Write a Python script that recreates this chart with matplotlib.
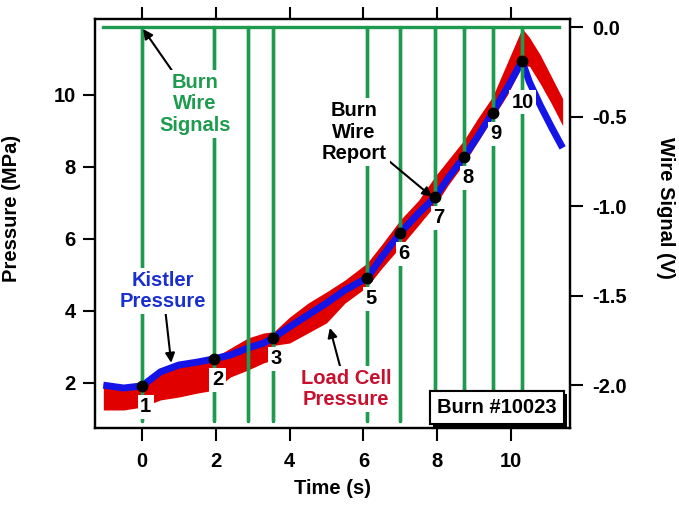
import matplotlib
matplotlib.use('Agg')
import matplotlib.pyplot as plt
import matplotlib.patheffects as pe

plt.rcParams['font.family'] = ['Liberation Sans', 'DejaVu Sans']
plt.rcParams['font.weight'] = 'bold'
plt.rcParams['axes.labelweight'] = 'bold'
plt.rcParams['font.size'] = 14.5
plt.rcParams['axes.unicode_minus'] = False

# Kistler pressure (blue), MPa
t_kistler = [-1.05, -0.5, 0, 0.5, 1.0, 1.5, 1.95, 2.4, 2.87, 3.3, 3.55, 4.0, 4.5, 5.0,
             5.5, 6.1, 6.5, 7.0, 7.5, 7.95, 8.3, 8.73, 9.1, 9.5, 9.9, 10.3, 10.5, 10.8,
             11.1, 11.4]
p_kistler = [1.94, 1.86, 1.92, 2.31, 2.5, 2.58, 2.67, 2.78, 2.97, 3.11, 3.25, 3.56, 3.89,
             4.22, 4.58, 4.92, 5.5, 6.17, 6.72, 7.17, 7.7, 8.28, 8.85, 9.5, 10.2, 10.94,
             10.36, 9.7, 9.1, 8.53]

# Load cell pressure (red band), MPa
t_load = [-1.05, -0.5, 0, 0.5, 1.0, 1.5, 1.95, 2.4, 2.87, 3.3, 3.55, 3.6, 4.0, 4.5, 5.0,
          5.5, 6.1, 6.5, 7.0, 7.5, 7.95, 8.3, 8.73, 9.1, 9.5, 9.9, 10.3, 10.5, 10.8, 11.1,
          11.4]
load_lo = [1.25, 1.25, 1.33, 1.53, 1.61, 1.72, 1.8, 2.17, 2.36, 2.56, 2.64, 3.05, 3.11,
           3.39, 3.67, 4.22, 4.67, 5.19, 5.78, 6.39, 6.95, 7.5, 8.1, 8.7, 9.35, 10.0, 10.8,
           10.8, 10.3, 9.75, 9.15]
load_hi = [2.02, 1.95, 2.0, 2.35, 2.52, 2.6, 2.7, 2.97, 3.25, 3.39, 3.42, 3.45, 3.83, 4.22,
           4.53, 4.86, 5.33, 5.85, 6.53, 7.08, 7.75, 8.2, 8.75, 9.35, 9.95, 10.9, 11.85,
           11.6, 11.1, 10.5, 9.9]

# burn wire signals (V)
wire_t_start = -1.05
wire_t_end = 11.3
burn_times = [0, 1.95, 2.87, 3.55, 6.1, 7.0, 7.95, 8.73, 9.5, 10.3]
wire_low = -2.2

# burn wire report points
mark_t = [0, 1.95, 3.55, 6.1, 7.0, 7.95, 8.73, 9.5, 10.3]
mark_p = [1.92, 2.67, 3.25, 4.92, 6.17, 7.17, 8.28, 9.5, 10.94]
mark_lbl = ['1', '2', '3', '5', '6', '7', '8', '9', '10']

GREEN = '#1f9b4f'

fig = plt.figure(figsize=(6.79, 5.05), dpi=100)
ax = fig.add_axes([0.140, 0.1525, 0.6995, 0.8099])
ax2 = ax.twinx()

ax.fill_between(t_load, load_lo, load_hi, color='#e00000', lw=0, zorder=1)
ax.plot(t_kistler, p_kistler, color='#1414e6', lw=5, solid_capstyle='butt', zorder=2)

# wire signal trace: baseline at 0 with a spike at each burn time
wt = [wire_t_start]
wv = [0]
for bt in burn_times:
    wt += [bt, bt, bt]
    wv += [0, wire_low, 0]
wt.append(wire_t_end)
wv.append(0)
ax2.plot(wt, wv, color=GREEN, lw=2.4, zorder=2)

ax2.plot(mark_t, mark_p, 'o', color='k', ms=7.5, transform=ax.transData, zorder=4)
for t, p, s in zip(mark_t, mark_p, mark_lbl):
    off = (0.5, -29.5) if s == '10' else (2.5, -15)
    ax2.annotate(s, xy=(t, p), xycoords=ax.transData, xytext=off,
                 textcoords='offset points', ha='center', va='center', zorder=5,
                 bbox=dict(boxstyle='square,pad=0.12', fc='white', ec='none'))

box = dict(boxstyle='square,pad=0.15', fc='white', ec='none')
arr = dict(arrowstyle='-|>', color='k', lw=1.5, mutation_scale=14, shrinkA=0, shrinkB=0)
ax2.annotate('Burn\nWire\nSignals', xy=(0.03, 11.83), xycoords=ax.transData,
             xytext=(1.44, 9.75), textcoords=ax.transData, color=GREEN,
             ha='center', va='center', linespacing=1.15, bbox=box, arrowprops=arr, zorder=6)
ax2.annotate('Burn\nWire\nReport', xy=(7.86, 7.17), xycoords=ax.transData,
             xytext=(5.75, 8.97), textcoords=ax.transData, color='k',
             ha='center', va='center', linespacing=1.15, bbox=box, arrowprops=arr, zorder=6)
ax2.annotate('Kistler\nPressure', xy=(0.79, 2.56), xycoords=ax.transData,
             xytext=(0.57, 4.56), textcoords=ax.transData, color='#1a2fd0',
             ha='center', va='center', linespacing=1.15, bbox=box, arrowprops=arr, zorder=6)
ax2.annotate('Load Cell\nPressure', xy=(5.09, 3.53), xycoords=ax.transData,
             xytext=(5.53, 1.83), textcoords=ax.transData, color='#c8102e',
             ha='center', va='center', linespacing=1.15, bbox=box, arrowprops=arr, zorder=6)

burn = ax2.text(0.846, 0.051, 'Burn #10023', transform=ax2.transAxes, ha='center',
                va='center', zorder=7,
                bbox=dict(boxstyle='square,pad=0.35', fc='white', ec='k', lw=1.5))
burn.get_bbox_patch().set_path_effects(
    [pe.withSimplePatchShadow(offset=(2.5, -2.5), shadow_rgbFace='k', alpha=1), pe.Normal()])

ax.set_xlim(-1.274, 11.6)
ax.set_ylim(0.75, 12.11)
ax2.set_ylim(-2.24, 0.045)

ax.set_xticks([0, 2, 4, 6, 8, 10])
ax.set_yticks([2, 4, 6, 8, 10])
ax2.set_yticks([0, -0.5, -1.0, -1.5, -2.0])
ax2.set_yticklabels(['0.0', '-0.5', '-1.0', '-1.5', '-2.0'])

ax.tick_params(axis='x', direction='out', length=9, width=1.5, top=True, pad=8)
ax.tick_params(axis='y', direction='out', length=9, width=1.5, pad=5)
ax2.tick_params(axis='y', direction='out', length=9, width=1.5, pad=7)
for a in (ax, ax2):
    for sp in a.spines.values():
        sp.set_linewidth(1.6)

ax.set_xlabel('Time (s)', labelpad=6)
ax.set_ylabel('Pressure (MPa)')
ax.yaxis.set_label_coords(-0.156, 0.538)
ax2.set_ylabel('Wire Signal (V)', rotation=-90, va='center')
ax2.yaxis.set_label_coords(1.2, 0.538)

fig.savefig('out.png', dpi=100)
